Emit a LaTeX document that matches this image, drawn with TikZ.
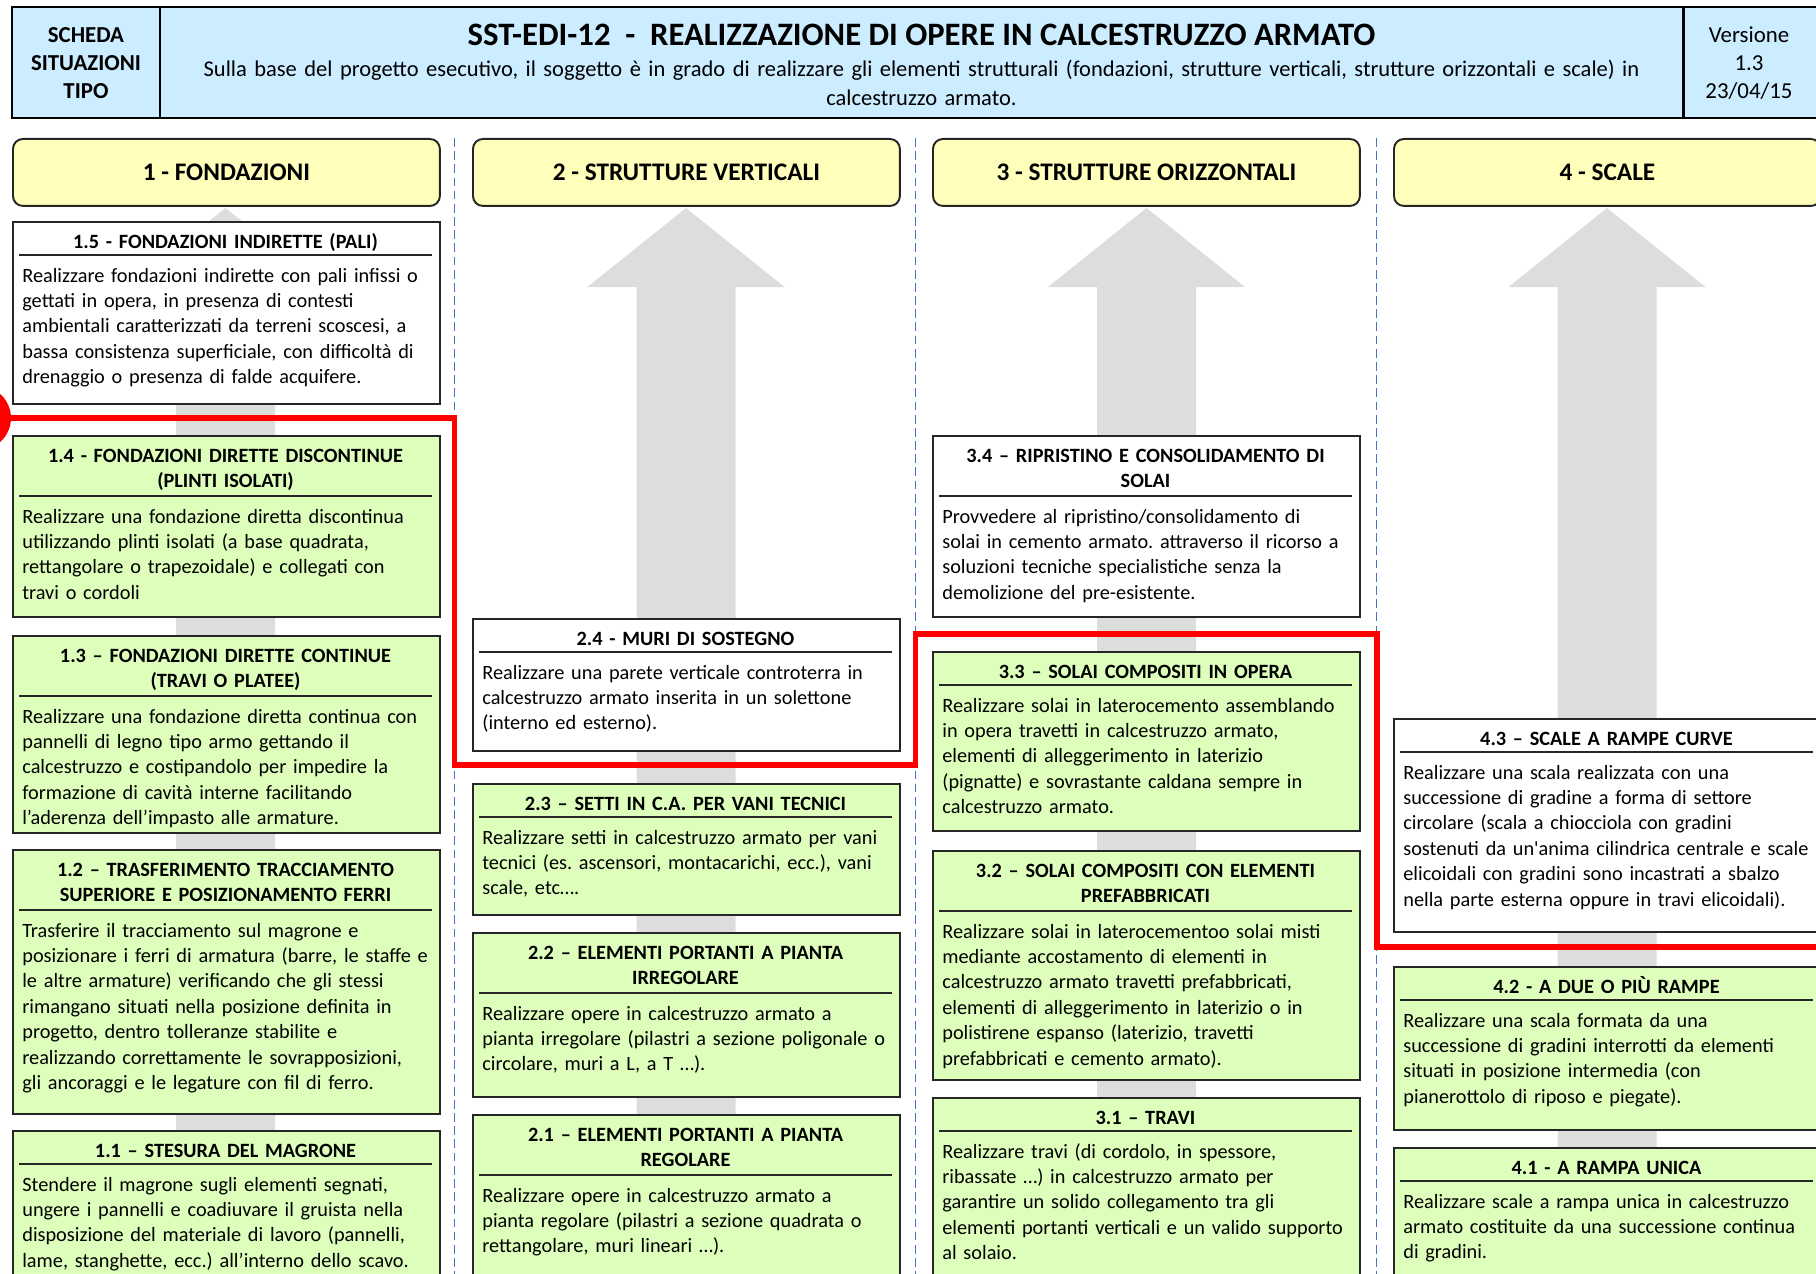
\documentclass[tikz,border=0pt]{standalone}
\usepackage{fontspec}
\setmainfont{Carlito}
\frenchspacing
\definecolor{azzurro}{RGB}{204,236,255}
\definecolor{giallino}{RGB}{255,255,187}
\definecolor{verdino}{RGB}{221,255,187}
\definecolor{grigiofreccia}{RGB}{221,221,221}
\definecolor{bluseparatore}{RGB}{68,114,196}
\definecolor{rosso}{RGB}{255,0,0}
\definecolor{bordo}{RGB}{38,38,38}

\newcommand{\corpo}{\fontsize{11.55}{14.46}\selectfont}

% scheda: nome, x sinistra, y alto, y basso, colore, righe titolo, titolo, testo
\newcommand{\scheda}[8]{%
  \pgfmathsetmacro{\xc}{#2+213.5}
  \pgfmathsetmacro{\yr}{#3+34+(#6-1)*27}
  \pgfmathsetmacro{\yt}{\yr+27}
  \pgfmathsetlengthmacro{\hh}{(#4-#3)*0.02cm}
  \node[riquadro, fill=#5, minimum height=\hh] (#1) at (#2,#3) {};
  \node[titolo] (#1t) at (\xc,#3+27.5) {#7};
  \draw[riga] (#2+7,\yr) -- (#2+420,\yr);
  \node[testo] (#1b) at (#2+10,\yt) {#8};
}

\tikzset{
  riquadro/.style={draw=bordo, line width=1.1pt, anchor=north west,
    minimum width=8.54cm, inner sep=0pt},
  titolo/.style={anchor=base, inner sep=0pt, text width=8.3cm,
    align=center, font=\corpo\bfseries},
  testo/.style={anchor=base west, inner sep=0pt, text width=8.4cm,
    align=left, font=\corpo},
  riga/.style={bordo, line width=1.1pt},
  intestazione/.style={draw=bordo, line width=1.1pt, fill=giallino,
    rounded corners=0.2cm, anchor=north west, minimum width=8.54cm,
    minimum height=1.34cm, font=\bfseries\fontsize{14.4}{17}\selectfont},
  cornice/.style={black, line width=1.7pt},
  freccia/.style={fill=grigiofreccia},
  separatore/.style={bluseparatore, line width=1.1pt, dash pattern=on 5pt off 2.5pt},
  percorso/.style={rosso, line width=3.4pt}
}

\begin{document}
\begin{tikzpicture}[x=0.02cm, y=-0.02cm]
\useasboundingbox (0,0) rectangle (1816,1274);
\clip (0,0) rectangle (1816,1274);

% testata
\draw[cornice, fill=azzurro] (12,7) rectangle (1830,118);
\draw[cornice] (160,7) -- (160,118);
\draw[cornice] (1683,7) -- (1683,118);
\node[anchor=base, text width=2.6cm, align=center, inner sep=0pt,
  font=\bfseries\fontsize{13}{15.87}\selectfont] (tipo) at (86,42.4)
  {SCHEDA\\SITUAZIONI\\TIPO};
\node[anchor=base, inner sep=0pt, font=\bfseries\fontsize{18.6}{22}\selectfont]
  (titolo) at (921.5,45.5)
  {SST-EDI-12\ \ -\ \ REALIZZAZIONE DI OPERE IN CALCESTRUZZO ARMATO};
\node[anchor=base, text width=31cm, align=center, inner sep=0pt,
  font=\fontsize{12.8}{16.44}\selectfont] (descrizione) at (921.5,76.5)
  {Sulla base del progetto esecutivo, il soggetto è in grado di realizzare gli elementi strutturali (fondazioni, strutture verticali, strutture orizzontali e scale) in\\calcestruzzo armato.};
\node[anchor=base, text width=2.6cm, align=center, inner sep=0pt,
  font=\fontsize{13}{15.87}\selectfont] (versione) at (1749,42.4)
  {Versione\\1.3\\23/04/15};

% frecce grigie di fondo
\foreach \cx in {225.5,686,1146.5,1607} {
  \fill[freccia] (\cx,208) -- (\cx+98.5,287) -- (\cx+49.5,287) -- (\cx+49.5,1300)
    -- (\cx-49.5,1300) -- (\cx-49.5,287) -- (\cx-98.5,287) -- cycle;
}

% separatori tratteggiati
\foreach \xs in {454.5,915.5,1376.5}
  \draw[separatore] (\xs,138) -- (\xs,1300);

% intestazioni delle colonne
\foreach \i/\x/\nome in {1/12/1 - FONDAZIONI, 2/472/2 - STRUTTURE VERTICALI,
    3/932/3 - STRUTTURE ORIZZONTALI, 4/1393/4 - SCALE}
  \node[intestazione] (col\i) at (\x,138) {\nome};

% colonna 1 - fondazioni
\scheda{s15}{12}{221}{403}{white}{1}{1.5 - FONDAZIONI INDIRETTE (PALI)}
  {Realizzare fondazioni indirette con pali infissi o\\gettati in opera, in presenza di contesti\\ambientali caratterizzati da terreni scoscesi, a\\bassa consistenza superficiale, con difficoltà di\\drenaggio o presenza di falde acquifere.}
\scheda{s14}{12}{435}{616}{verdino}{2}{1.4 - FONDAZIONI DIRETTE DISCONTINUE\\(PLINTI ISOLATI)}
  {Realizzare una fondazione diretta discontinua\\utilizzando plinti isolati (a base quadrata,\\rettangolare o trapezoidale) e collegati con\\travi o cordoli}
\scheda{s13}{12}{635}{832}{verdino}{2}{1.3 – FONDAZIONI DIRETTE CONTINUE\\(TRAVI O PLATEE)}
  {Realizzare una fondazione diretta continua con\\pannelli di legno tipo armo gettando il\\calcestruzzo e costipandolo per impedire la\\formazione di cavità interne facilitando\\l’aderenza dell’impasto alle armature.}
\scheda{s12}{12}{849}{1113}{verdino}{2}{1.2 – TRASFERIMENTO TRACCIAMENTO\\SUPERIORE E POSIZIONAMENTO FERRI}
  {Trasferire il tracciamento sul magrone e\\posizionare i ferri di armatura (barre, le staffe e\\le altre armature) verificando che gli stessi\\rimangano situati nella posizione definita in\\progetto, dentro tolleranze stabilite e\\realizzando correttamente le sovrapposizioni,\\gli ancoraggi e le legature con fil di ferro.}
\scheda{s11}{12}{1130}{1300}{verdino}{1}{1.1 – STESURA DEL MAGRONE}
  {Stendere il magrone sugli elementi segnati,\\ungere i pannelli e coadiuvare il gruista nella\\disposizione del materiale di lavoro (pannelli,\\lame, stanghette, ecc.) all’interno dello scavo.}

% colonna 2 - strutture verticali
\scheda{s24}{472}{618}{750}{white}{1}{2.4 - MURI DI SOSTEGNO}
  {Realizzare una parete verticale controterra in\\calcestruzzo armato inserita in un solettone\\(interno ed esterno).}
\scheda{s23}{472}{783}{914}{verdino}{1}{2.3 – SETTI IN C.A. PER VANI TECNICI}
  {Realizzare setti in calcestruzzo armato per vani\\tecnici (es. ascensori, montacarichi, ecc.), vani\\scale, etc….}
\scheda{s22}{472}{932}{1096}{verdino}{2}{2.2 – ELEMENTI PORTANTI A PIANTA\\IRREGOLARE}
  {Realizzare opere in calcestruzzo armato a\\pianta irregolare (pilastri a sezione poligonale o\\circolare, muri a L, a T …).}
\scheda{s21}{472}{1114}{1300}{verdino}{2}{2.1 – ELEMENTI PORTANTI A PIANTA\\REGOLARE}
  {Realizzare opere in calcestruzzo armato a\\pianta regolare (pilastri a sezione quadrata o\\rettangolare, muri lineari …).}

% colonna 3 - strutture orizzontali
\scheda{s34}{932}{435}{616}{white}{2}{3.4 – RIPRISTINO E CONSOLIDAMENTO DI\\SOLAI}
  {Provvedere al ripristino/consolidamento di\\solai in cemento armato. attraverso il ricorso a\\soluzioni tecniche specialistiche senza la\\demolizione del pre-esistente.}
\scheda{s33}{932}{651}{830}{verdino}{1}{3.3 – SOLAI COMPOSITI IN OPERA}
  {Realizzare solai in laterocemento assemblando\\in opera travetti in calcestruzzo armato,\\elementi di alleggerimento in laterizio\\(pignatte) e sovrastante caldana sempre in\\calcestruzzo armato.}
\scheda{s32}{932}{850}{1079}{verdino}{2}{3.2 – SOLAI COMPOSITI CON ELEMENTI\\PREFABBRICATI}
  {Realizzare solai in laterocementoo solai misti\\mediante accostamento di elementi in\\calcestruzzo armato travetti prefabbricati,\\elementi di alleggerimento in laterizio o in\\polistirene espanso (laterizio, travetti\\prefabbricati e cemento armato).}
\scheda{s31}{932}{1097}{1300}{verdino}{1}{3.1 – TRAVI}
  {Realizzare travi (di cordolo, in spessore,\\ribassate …) in calcestruzzo armato per\\garantire un solido collegamento tra gli\\elementi portanti verticali e un valido supporto\\al solaio.}

% colonna 4 - scale
\scheda{s43}{1393}{718}{931}{white}{1}{4.3 – SCALE A RAMPE CURVE}
  {Realizzare una scala realizzata con una\\successione di gradine a forma di settore\\circolare (scala a chiocciola con gradini\\sostenuti da un\textquotesingle anima cilindrica centrale e scale\\elicoidali con gradini sono incastrati a sbalzo\\nella parte esterna oppure in travi elicoidali).}
\scheda{s42}{1393}{966}{1129}{verdino}{1}{4.2 - A DUE O PIÙ RAMPE}
  {Realizzare una scala formata da una\\successione di gradini interrotti da elementi\\situati in posizione intermedia (con\\pianerottolo di riposo e piegate).}
\scheda{s41}{1393}{1147}{1300}{verdino}{1}{4.1 - A RAMPA UNICA}
  {Realizzare scale a rampa unica in calcestruzzo\\armato costituite da una successione continua\\di gradini.}

% linea rossa a gradini
\coordinate (inizio) at (-21,418);
\fill[rosso] (inizio) circle[radius=0.64cm];
\draw[percorso] (inizio) -- (454.5,418) -- (454.5,765) -- (915.5,765)
  -- (915.5,634) -- (1376.5,634) -- (1376.5,947) -- (1830,947);
\end{tikzpicture}
\end{document}
